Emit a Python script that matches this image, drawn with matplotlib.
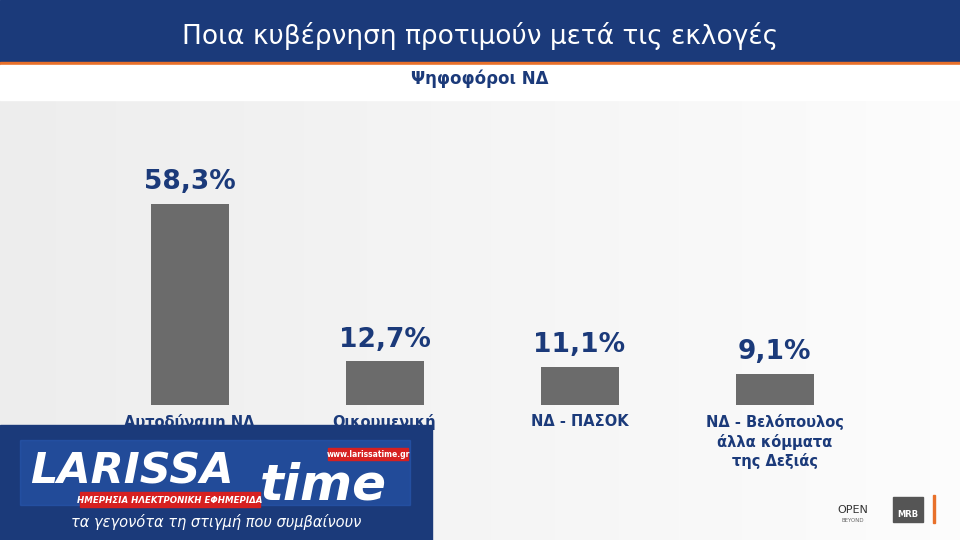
import matplotlib.pyplot as plt
import numpy as np
from matplotlib.patches import Rectangle

categories = ["Αυτοδύναμη ΝΔ", "Οικουμενική", "ΝΔ - ΠΑΣΟΚ", "ΝΔ - Βελόπουλος\nάλλα κόμματα\nτης Δεξιάς"]
values = [58.3, 12.7, 11.1, 9.1]
value_labels = ["58,3%", "12,7%", "11,1%", "9,1%"]

plt.rcParams['font.family'] = ['DejaVu Sans']
fig = plt.figure(figsize=(9.6, 5.4), dpi=100)
W, H = 960, 540
bg = fig.add_axes([0, 0, 1, 1])
bg.set_xlim(0, W); bg.set_ylim(H, 0); bg.axis('off')
grad = np.linspace(0.93, 0.99, 256)[None, :]
bg.imshow(np.dstack([grad, grad, grad]), extent=[0, W, H, 100], aspect='auto', zorder=0)
bg.add_patch(Rectangle((0, 0), W, 62, color='#1b3a7a', zorder=1))
bg.add_patch(Rectangle((0, 62), W, 3, color='#e8702a', zorder=1))
bg.add_patch(Rectangle((0, 65), W, 35, color='white', zorder=1))
bg.text(480, 44, "Ποια κυβέρνηση προτιμούν μετά τις εκλογές", color='white', fontsize=19, ha='center', zorder=2)
bg.text(480, 84, "Ψηφοφόροι ΝΔ", color='#1b3a7a', fontsize=12, fontweight='bold', ha='center', zorder=2)

ax = fig.add_axes([92/W, 135/H, 780/W, 345/H])
ax.set_xlim(-0.5, 3.5); ax.set_ylim(0, 100)
ax.axis('off')
x = np.arange(len(values))
ax.bar(x, values, width=0.4, color='#6b6b6b')
for xi, v, lab, cat in zip(x, values, value_labels, categories):
    ax.text(xi, v + 2.5, lab, ha='center', va='bottom', fontsize=19, fontweight='bold', color='#1b3a7a')
    ax.text(xi, -2.5, cat, ha='center', va='top', fontsize=10.5, fontweight='bold', color='#1b3a7a', linespacing=1.3)

bg.add_patch(Rectangle((0, 425), 432, 115, color='#1b3a7a', zorder=5))
bg.add_patch(Rectangle((20, 440), 390, 65, color='#2a5cb8', zorder=5, alpha=0.5))
bg.text(30, 484, "LARISSA", color='white', fontsize=31, fontweight='bold', style='italic', zorder=6)
bg.text(260, 500, "time", color='white', fontsize=36, fontweight='bold', style='italic', zorder=6)
bg.add_patch(Rectangle((80, 492), 180, 15, color='#d62020', zorder=6))
bg.text(170, 503, "ΗΜΕΡΗΣΙΑ ΗΛΕΚΤΡΟΝΙΚΗ ΕΦΗΜΕΡΙΔΑ", color='white', fontsize=6.2, fontweight='bold', style='italic', ha='center', zorder=7)
bg.add_patch(Rectangle((328, 448), 80, 12, color='#d62020', zorder=6))
bg.text(368, 457, "www.larissatime.gr", color='white', fontsize=5.5, fontweight='bold', ha='center', zorder=7)
bg.text(216, 527, "τα γεγονότα τη στιγμή που συμβαίνουν", color='white', fontsize=10.5, style='italic', ha='center', zorder=6)
bg.text(853, 513, "OPEN", color='#333333', fontsize=8, ha='center')
bg.text(853, 522, "BEYOND", color='#666666', fontsize=4, ha='center')
bg.add_patch(Rectangle((893, 497), 30, 25, color='#555555'))
bg.text(908, 517, "MRB", color='white', fontsize=6, fontweight='bold', ha='center')
bg.add_patch(Rectangle((933, 495), 2, 28, color='#e8702a'))
fig.savefig("out.png", dpi=100)
